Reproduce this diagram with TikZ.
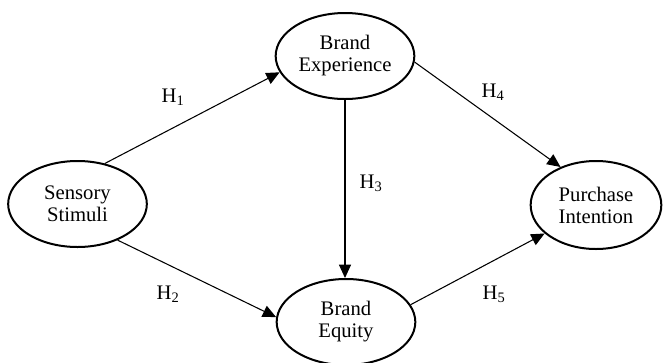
\documentclass[tikz,border=0pt]{standalone}
\usepackage{fontspec}
\setmainfont{Liberation Serif}
\usetikzlibrary{shapes.geometric,arrows.meta}

\begin{document}
\begin{tikzpicture}[
            x=0.75pt, y=-0.75pt,
            construct/.style={ellipse,draw,line width=1.5pt,inner sep=0pt,minimum width=104pt,minimum height=64.5pt,align=center},
            link/.style={line width=0.8pt,-{Triangle[length=10pt,width=9pt]}},
            every node/.style={font=\fontsize{15.5}{16.5}\selectfont}
        ]
          \useasboundingbox (0,0) rectangle (665,362);
          \node[construct] (ss) at (77.5,204) {Sensory\\Stimuli};
          \node[construct] (be) at (345,56) {Brand\\Experience};
          \node[construct] (beq) at (346,322) {Brand\\Equity};
          \node[construct,minimum width=98pt,minimum height=66pt] (pi) at (596,205) {Purchase\\Intention};
          \draw[link] (ss.56) -- (be.194);
          \draw[link] (ss.318) -- (beq.176);
          \draw[link] (be.south) -- (be.south |- beq.north);
          \draw[link] (be.355) -- (pi.133);
          \draw[link] (beq.15) -- (pi.209);
          \node (h1) at (173,97) {H\textsubscript{1}};
          \node (h2) at (168,294) {H\textsubscript{2}};
          \node (h3) at (371,183) {H\textsubscript{3}};
          \node (h4) at (493,92) {H\textsubscript{4}};
          \node (h5) at (494,294) {H\textsubscript{5}};
        \end{tikzpicture}
\end{document}
